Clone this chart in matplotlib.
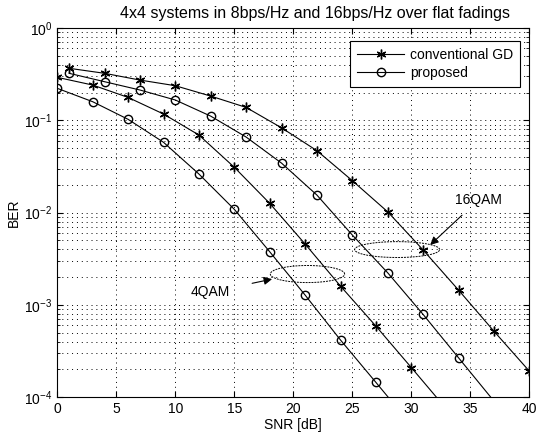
import numpy as np
import matplotlib
matplotlib.use("Agg")
import matplotlib.pyplot as plt

plt.rcParams['font.family'] = ['Liberation Sans', 'DejaVu Sans']
plt.rcParams['mathtext.fontset'] = 'custom'
plt.rcParams['mathtext.rm'] = 'Liberation Sans'

# ---- data ----
snr_16 = [1, 4, 7, 10, 13, 16, 19, 22, 25, 28, 31, 34, 37, 40]
ber_gd_16 = [0.366, 0.323, 0.273, 0.237, 0.183, 0.138, 0.083, 0.0469,
             0.0222, 0.0102, 0.00394, 0.00145, 5.2e-4, 1.92e-4]
snr_16p = [1, 4, 7, 10, 13, 16, 19, 22, 25, 28, 31, 34, 37]
ber_pr_16 = [0.323, 0.262, 0.213, 0.166, 0.111, 0.0659, 0.0344, 0.0155,
             0.00572, 0.00223, 7.9e-4, 2.68e-4, 9.1e-5]
snr_4 = [0, 3, 6, 9, 12, 15, 18, 21, 24, 27, 30, 33]
ber_gd_4 = [0.292, 0.241, 0.177, 0.117, 0.0693, 0.031, 0.0126, 0.00457,
            0.0016, 5.9e-4, 2.1e-4, 7.4e-5]
snr_4p = [0, 3, 6, 9, 12, 15, 18, 21, 24, 27, 30]
ber_pr_4 = [0.222, 0.159, 0.1025, 0.0578, 0.0262, 0.01086, 0.00377, 0.00128,
            4.17e-4, 1.45e-4, 5.0e-5]

xticks = [0, 5, 10, 15, 20, 25, 30, 35, 40]
legend_labels = ['conventional GD', 'proposed']
title = '4x4 systems in 8bps/Hz and 16bps/Hz over flat fadings'

# annotation geometry: (center SNR, center BER, width dB, height decades)
ell_16 = (28.8, 10 ** -2.40, 7.2, 0.172)
ell_4 = (21.2, 10 ** -2.665, 6.3, 0.185)

YMIN, YMAX = 1e-4, 1

fig = plt.figure(figsize=(5.37, 4.36), dpi=100)
ax = fig.add_axes([0.1067, 0.0888, 0.879, 0.847])


def visible(vals):
    return [i for i, v in enumerate(vals) if v >= YMIN]


star = (6, 2, 0)
mk = dict(color='k', lw=0.8, markeredgewidth=1.0)
l1, = ax.semilogy(snr_16, ber_gd_16, marker=star, markersize=7,
                  markevery=visible(ber_gd_16), **mk)
l2, = ax.semilogy(snr_16p, ber_pr_16, marker='o', markersize=6,
                  markerfacecolor='none', markevery=visible(ber_pr_16), **mk)
ax.semilogy(snr_4, ber_gd_4, marker=star, markersize=7,
            markevery=visible(ber_gd_4), **mk)
ax.semilogy(snr_4p, ber_pr_4, marker='o', markersize=6, markerfacecolor='none',
            markevery=visible(ber_pr_4), **mk)

ax.set_xlim(0, 40)
ax.set_ylim(YMIN, YMAX)
ax.set_xticks(xticks)
ax.set_xticklabels([str(t) for t in xticks])
gs = dict(linestyle=(0, (1, 4)), color='k', lw=0.7)
ax.grid(True, which='major', **gs)
ax.grid(True, which='minor', axis='y', **gs)
ax.tick_params(direction='in', top=True, right=True, which='both', labelsize=10)
ax.tick_params(which='major', length=4)
ax.tick_params(which='minor', length=2)
for s in ax.spines.values():
    s.set_linewidth(0.8)

ax.set_title(title, fontsize=11.5, pad=7, x=0.545)
ax.set_xlabel('SNR [dB]', fontsize=10, labelpad=1)
ax.set_ylabel('BER', fontsize=10, labelpad=2)

leg = ax.legend([l1, l2], legend_labels, loc='upper right', fontsize=10,
                fancybox=False, edgecolor='k', framealpha=1, handlelength=3.4,
                borderaxespad=0, labelspacing=0.3, handletextpad=0.4,
                borderpad=0.5, bbox_to_anchor=(0.980, 0.965))
leg.get_frame().set_linewidth(0.8)

t = np.linspace(0, 2 * np.pi, 200)
for cx, cy, w, h in (ell_16, ell_4):
    ax.plot(cx + w / 2 * np.cos(t), 10 ** (np.log10(cy) + h / 2 * np.sin(t)),
            color='k', lw=0.7, linestyle=(0, (2, 1)))

ax.annotate('16QAM', xy=(31.6, 10 ** -2.35), xytext=(35.7, 10 ** -1.86),
            ha='center', va='center', fontsize=10,
            arrowprops=dict(arrowstyle='-|>', color='k', lw=0.8,
                            mutation_scale=12, shrinkA=6, shrinkB=0))
ax.annotate('4QAM', xy=(18.2, 10 ** -2.72), xytext=(13.0, 10 ** -2.86),
            ha='center', va='center', fontsize=10,
            arrowprops=dict(arrowstyle='-|>', color='k', lw=0.8,
                            mutation_scale=12, shrinkA=14, shrinkB=0))

fig.savefig('out.png', dpi=100)
